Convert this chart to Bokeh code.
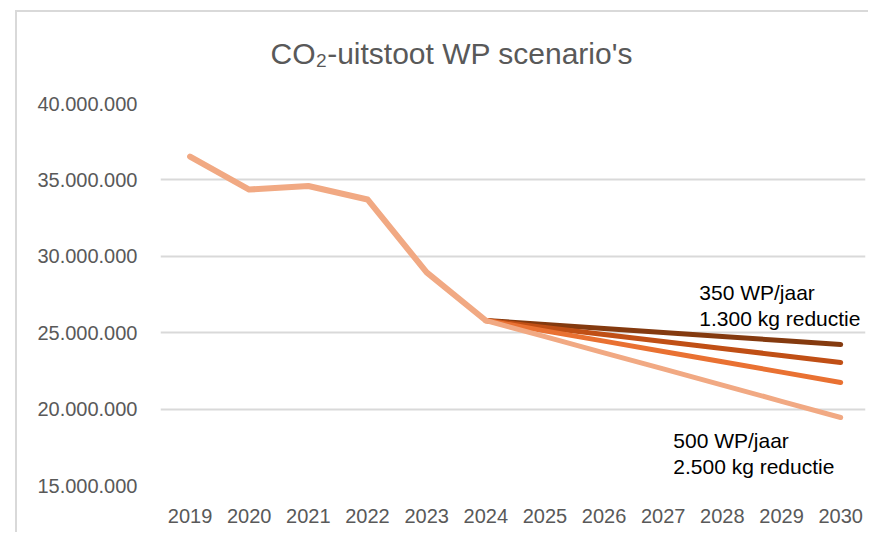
from bokeh.plotting import figure
from bokeh.models import Range1d, FixedTicker, CustomJSTickFormatter, Label
from bokeh.embed import file_html
from bokeh.resources import INLINE

# ---- data ----
years_hist = [2019, 2020, 2021, 2022, 2023, 2024]
co2_hist = [36_530_000, 34_370_000, 34_600_000, 33_720_000, 28_950_000, 25_800_000]

years_proj = [2024, 2025, 2026, 2027, 2028, 2029, 2030]
scenario_a = [25_800_000, 25_540_000, 25_280_000, 25_010_000, 24_750_000, 24_490_000, 24_230_000]  # 350 WP/jaar
scenario_b = [25_800_000, 25_340_000, 24_880_000, 24_430_000, 23_970_000, 23_510_000, 23_050_000]
scenario_c = [25_800_000, 25_120_000, 24_450_000, 23_770_000, 23_100_000, 22_420_000, 21_740_000]
scenario_d = [25_800_000, 24_740_000, 23_680_000, 22_630_000, 21_570_000, 20_510_000, 19_450_000]  # 500 WP/jaar

year_ticks = [2019, 2020, 2021, 2022, 2023, 2024, 2025, 2026, 2027, 2028, 2029, 2030]
y_ticks = [15_000_000, 20_000_000, 25_000_000, 30_000_000, 35_000_000, 40_000_000]

title_text = "CO\u2082-uitstoot WP scenario's"
note_top = ["350 WP/jaar", "1.300 kg reductie"]
note_bottom = ["500 WP/jaar", "2.500 kg reductie"]

# ---- styles ----
col_hist = "#F1A983"
col_a = "#843A0F"
col_b = "#C04F15"
col_c = "#E97132"
col_d = "#F1A983"
grey_text = "#595959"
grid_col = "#D9D9D9"
FONT = "Liberation Sans"

p = figure(width=868, height=532, output_backend="svg", toolbar_location=None,
           x_range=Range1d(2018.5, 2030.42), y_range=Range1d(15_000_000, 40_000_000),
           min_border_left=160, min_border_right=3, min_border_top=103, min_border_bottom=47)
# light grey chart-area border (left and top), painted behind a transparent canvas
p.styles = {
    "background": "linear-gradient(#D9D9D9, #D9D9D9) 15px 10px / 2px 100% no-repeat, "
                  "linear-gradient(#D9D9D9, #D9D9D9) 15px 10px / 100% 2px no-repeat, white"
}

p.outline_line_color = None
p.background_fill_color = None
p.border_fill_color = None

p.title.text = title_text
p.title.align = "left"
p.title.offset = 110
p.title.standoff = 68
p.title.text_font = FONT
p.title.text_font_size = "30px"
p.title.text_font_style = "normal"
p.title.text_color = grey_text

p.xgrid.grid_line_color = None
p.ygrid.grid_line_color = grid_col
p.ygrid.grid_line_width = 2

p.xaxis.ticker = FixedTicker(ticks=year_ticks)
p.yaxis.ticker = FixedTicker(ticks=y_ticks)
p.yaxis.formatter = CustomJSTickFormatter(code="""
    return tick.toFixed(0).replace(/\\B(?=(\\d{3})+(?!\\d))/g, ".");
""")
for ax in (p.xaxis[0], p.yaxis[0]):
    ax.axis_line_color = None
    ax.major_tick_line_color = None
    ax.minor_tick_line_color = None
    ax.major_tick_out = 0
    ax.major_tick_in = 0
    ax.minor_tick_out = 0
    ax.minor_tick_in = 0
    ax.major_label_text_font = FONT
    ax.major_label_text_font_size = "20px"
    ax.major_label_text_color = grey_text
p.yaxis.major_label_standoff = 23
p.xaxis.major_label_standoff = 23

lw = 5
for xs, ys, c in [(years_proj, scenario_a, col_a), (years_proj, scenario_b, col_b),
                  (years_proj, scenario_c, col_c), (years_proj, scenario_d, col_d)]:
    p.line(xs, ys, line_color=c, line_width=lw, line_cap="round", line_join="round")
p.line(years_hist, co2_hist, line_color=col_hist, line_width=6, line_cap="round", line_join="round")

# annotations
for txt, yy in zip(note_top, [27_630_000, 25_930_000]):
    p.add_layout(Label(x=2027.61, y=yy, text=txt, text_align="left", text_baseline="alphabetic",
                       text_font=FONT, text_font_size="21px", text_color="#000000"))
for txt, yy in zip(note_bottom, [17_950_000, 16_240_000]):
    p.add_layout(Label(x=2027.17, y=yy, text=txt, text_align="left", text_baseline="alphabetic",
                       text_font=FONT, text_font_size="21px", text_color="#000000"))

open("out.html", "w").write(file_html(p, INLINE))
